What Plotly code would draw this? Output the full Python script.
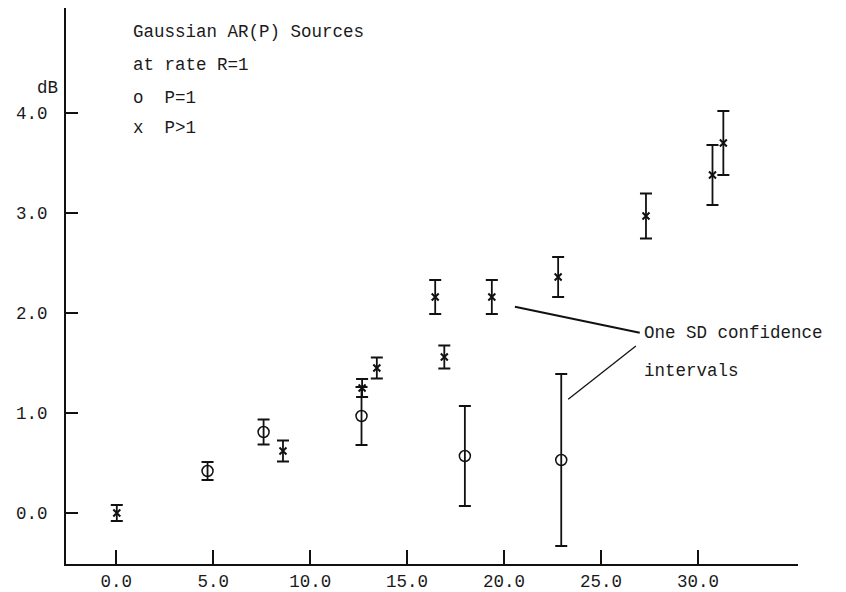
import plotly.graph_objects as go

# ---- data ----
p1_x = [4.71, 7.6, 12.65, 17.98, 22.95]
p1_y = [0.42, 0.81, 0.97, 0.57, 0.53]
p1_err = [0.09, 0.125, 0.29, 0.50, 0.86]

pg_x = [0.03, 8.6, 12.68, 13.44, 16.45, 16.92, 19.37, 22.79, 27.32, 30.75, 31.31]
pg_y = [0.0, 0.62, 1.25, 1.45, 2.16, 1.56, 2.16, 2.36, 2.97, 3.38, 3.70]
pg_err = [0.08, 0.105, 0.09, 0.105, 0.17, 0.115, 0.17, 0.20, 0.225, 0.30, 0.32]

x_ticks = [0, 5, 10, 15, 20, 25, 30]
x_tick_text = ["0.0", "5.0", "10.0", "15.0", "20.0", "25.0", "30.0"]
y_ticks = [0, 1, 2, 3, 4]
y_tick_text = ["0.0", "1.0", "2.0", "3.0", "4.0"]

INK = "#111111"
FONT = "Liberation Mono, DejaVu Sans Mono, monospace"

fig = go.Figure()

fig.add_trace(go.Scatter(
    x=p1_x, y=p1_y, mode="markers", name="P=1",
    marker=dict(symbol="circle-open", size=11, color=INK, line=dict(width=1.5, color=INK)),
    error_y=dict(type="data", array=p1_err, visible=True, color=INK, thickness=1.8, width=6),
    showlegend=False,
))
fig.add_trace(go.Scatter(
    x=pg_x, y=pg_y, mode="markers", name="P>1",
    marker=dict(symbol="x-thin", size=7, color=INK, line=dict(width=2, color=INK)),
    error_y=dict(type="data", array=pg_err, visible=True, color=INK, thickness=1.8, width=6),
    showlegend=False,
))

ann_font = dict(family=FONT, size=17.5, color="#1a1a1a")
texts = [
    ("Gaussian AR(P) Sources", 0.74, 4.81),
    ("at rate R=1", 0.74, 4.48),
    ("o  P=1", 0.74, 4.15),
    ("x  P>1", 0.74, 3.85),
    ("One SD confidence", 27.1, 1.80),
    ("intervals", 27.1, 1.42),
]
for t, x, y in texts:
    fig.add_annotation(text=t, x=x, y=y, xref="x", yref="y", showarrow=False,
                       xanchor="left", yanchor="middle", font=ann_font)

# y-axis unit label, left of the axis
fig.add_annotation(text="dB", x=-0.0423, y=0.856, xref="paper", yref="paper",
                   showarrow=False, xanchor="left", yanchor="middle", font=ann_font)

# leader lines
fig.add_shape(type="line", x0=20.56, y0=2.063, x1=27.0, y1=1.803, xref="x", yref="y",
              line=dict(color=INK, width=2))
fig.add_shape(type="line", x0=23.31, y0=1.137, x1=26.8, y1=1.67, xref="x", yref="y",
              line=dict(color=INK, width=1.3))

axis_common = dict(showline=True, linecolor=INK, linewidth=2, showgrid=False, zeroline=False,
                   ticks="inside", tickcolor=INK, tickwidth=1.5,
                   tickfont=dict(family=FONT, size=17.5, color="#1a1a1a"))

fig.update_layout(
    width=846, height=592,
    margin=dict(l=66, r=48, t=8, b=28, pad=0),
    paper_bgcolor="white", plot_bgcolor="white",
    xaxis=dict(range=[-2.59, 35.16], tickvals=x_ticks, ticktext=x_tick_text, ticklen=14,
               automargin=False, **axis_common),
    yaxis=dict(range=[-0.51, 5.05], tickvals=y_ticks, ticktext=y_tick_text, ticklen=12,
               automargin=False, ticklabelstandoff=13, **axis_common),
)

fig.write_html("out.html")
